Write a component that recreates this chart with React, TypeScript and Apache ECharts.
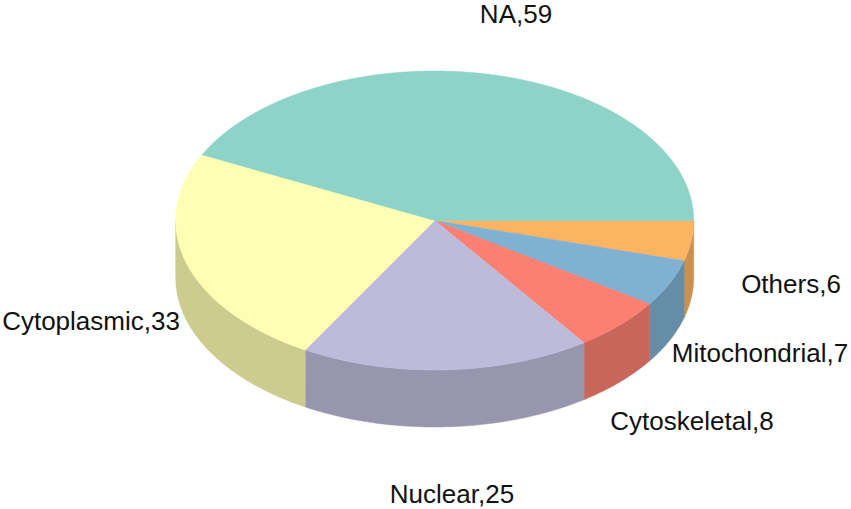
import React, { useEffect, useRef } from "react";
import * as echarts from "echarts";

const categories = ["Others", "Mitochondrial", "Cytoskeletal", "Nuclear", "Cytoplasmic", "NA"];
const values = [6, 7, 8, 25, 33, 59];
const topColors = ["#FDB462", "#80B1D3", "#FB8072", "#BEBADA", "#FFFFB3", "#8DD3C7"];
const sideColors = ["#CA904E", "#668DA8", "#C8665B", "#9895AE", "#CCCC8F", "#71A89F"];

const CX = 434.7, CY = 220.5, RX = 259, RY = 149.5, DEPTH = 57;
const labelAnchors = [[791, 283.5], [760, 352.5], [692, 420.5], [452, 494], [91, 321], [516, 14]];

const total = values.reduce((a, b) => a + b, 0);
const pt = (deg: number, dy = 0) => {
  const r = (deg * Math.PI) / 180;
  return [CX + RX * Math.cos(r), CY + RY * Math.sin(r) + dy];
};
const arc = (a: number, b: number, dy = 0) => {
  const out: number[][] = [];
  const n = Math.max(2, Math.ceil(Math.abs(b - a) * 2));
  for (let i = 0; i <= n; i++) out.push(pt(a + ((b - a) * i) / n, dy));
  return out;
};

export default function App() {
  const ref = useRef<HTMLDivElement>(null);
  useEffect(() => {
    const chart = echarts.init(ref.current!, undefined, { renderer: "svg" });
    const starts: number[] = [];
    let c = 0;
    for (const v of values) { starts.push(c); c += (v / total) * 360; }
    chart.setOption({
      animation: false,
      backgroundColor: "#ffffff",
      xAxis: { show: false, min: 0, max: 1 },
      yAxis: { show: false, min: 0, max: 1 },
      grid: { left: 0, right: 0, top: 0, bottom: 0 },
      series: [
        {
          type: "custom",
          coordinateSystem: "none",
          silent: true,
          clip: false,
          data: values.map((v, i) => ({ name: categories[i], value: [i, v] })),
          renderItem: (_p: any, api: any) => {
            const i = api.value(0) as number;
            const a = starts[i];
            const b = a + (api.value(1) as number / total) * 360;
            const children: any[] = [];
            const wa = Math.max(a, 0), wb = Math.min(b, 180);
            if (wb > wa) {
              children.push({
                type: "polygon",
                shape: { points: [...arc(wa, wb), ...arc(wb, wa, DEPTH)] },
                style: { fill: sideColors[i], stroke: sideColors[i], lineWidth: 0.5 },
              });
            }
            children.push({
              type: "polygon",
              z2: 5,
              shape: { points: [[CX, CY], ...arc(a, b)] },
              style: { fill: topColors[i], stroke: topColors[i], lineWidth: 0.5 },
            });
            children.push({
              type: "text",
              z2: 10,
              style: {
                text: `${categories[i]},${values[i]}`,
                x: labelAnchors[i][0],
                y: labelAnchors[i][1],
                align: "center",
                verticalAlign: "middle",
                fontFamily: "Liberation Sans",
                fontSize: 26,
                lineHeight: 24,
                fill: "#111111",
              },
            });
            return { type: "group", children };
          },
        },
      ],
    });
    return () => chart.dispose();
  }, []);
  return <div ref={ref} style={{ position: "fixed", left: 0, top: 0, width: 851, height: 509 }} />;
}
